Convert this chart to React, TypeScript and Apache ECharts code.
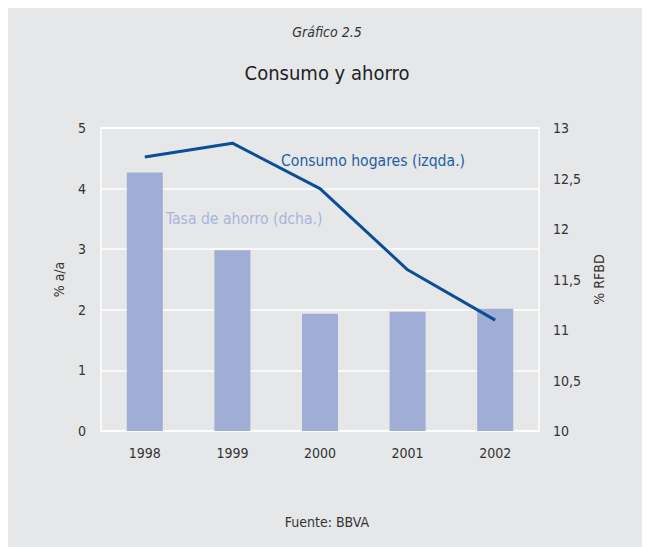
import React, { useEffect, useRef } from "react";
import * as echarts from "echarts";

const years = ["1998", "1999", "2000", "2001", "2002"];
const consumoHogares = [4.52, 4.75, 4.0, 2.66, 1.83];
const tasaAhorro = [12.56, 11.79, 11.16, 11.18, 11.21];

const FONT = "'DejaVu Sans Condensed', 'Liberation Sans Narrow', sans-serif";

export default function App() {
  const ref = useRef<HTMLDivElement>(null);
  useEffect(() => {
    if (!ref.current) return;
    const chart = echarts.init(ref.current, null, { renderer: "svg" });
    chart.setOption({
      animation: false,
      backgroundColor: "#e6e7e9",
      textStyle: { fontFamily: FONT },
      grid: {
        left: 93,
        right: 107,
        top: 120,
        bottom: 116,
        show: true,
        borderColor: "#ffffff",
        borderWidth: 1.5,
        backgroundColor: "transparent",
      },
      graphic: [
        {
          type: "text",
          left: "center",
          top: 17,
          style: { text: "Gráfico 2.5", fontFamily: FONT, fontSize: 14, fontStyle: "italic", fill: "#333" },
        },
        {
          type: "text",
          left: "center",
          top: 55,
          style: { text: "Consumo y ahorro", fontFamily: FONT, fontSize: 20, fill: "#222" },
        },
        {
          type: "text",
          left: "center",
          top: 507,
          style: { text: "Fuente: BBVA", fontFamily: FONT, fontSize: 14, fill: "#333" },
        },
        {
          type: "text",
          left: 273,
          top: 145,
          style: { text: "Consumo hogares (izqda.)", fontFamily: FONT, fontSize: 15.6, fill: "#1c5ea8" },
        },
        {
          type: "text",
          left: 158,
          top: 203,
          style: { text: "Tasa de ahorro (dcha.)", fontFamily: FONT, fontSize: 15.6, fill: "#a9b4dc" },
        },
      ],
      xAxis: {
        type: "category",
        data: years,
        axisLine: { show: false },
        axisTick: { show: false },
        axisLabel: { color: "#333", fontSize: 14, fontFamily: FONT, margin: 15 },
      },
      yAxis: [
        {
          type: "value",
          min: 0,
          max: 5,
          interval: 1,
          name: "% a/a",
          nameLocation: "middle",
          nameGap: 35,
          nameTextStyle: { color: "#333", fontSize: 14, fontFamily: FONT },
          axisLine: { show: false },
          axisTick: { show: false },
          axisLabel: { color: "#333", fontSize: 14, fontFamily: FONT, margin: 15 },
          splitLine: { show: true, lineStyle: { color: "#ffffff", width: 1.5 } },
        },
        {
          type: "value",
          min: 10,
          max: 13,
          interval: 0.5,
          name: "% RFBD",
          nameLocation: "middle",
          nameGap: 49,
          nameTextStyle: { color: "#333", fontSize: 14, fontFamily: FONT },
          axisLine: { show: false },
          axisTick: { show: false },
          axisLabel: {
            color: "#333",
            fontSize: 14,
            fontFamily: FONT,
            margin: 14,
            formatter: (v: number) => String(v).replace(".", ","),
          },
          splitLine: { show: false },
        },
      ],
      series: [
        {
          name: "Tasa de ahorro (dcha.)",
          type: "bar",
          yAxisIndex: 1,
          data: tasaAhorro,
          barWidth: 36,
          itemStyle: { color: "#a0aed6" },
        },
        {
          name: "Consumo hogares (izqda.)",
          type: "line",
          yAxisIndex: 0,
          data: consumoHogares,
          symbol: "none",
          lineStyle: { color: "#0a4e9b", width: 3 },
        },
      ],
    });
    return () => chart.dispose();
  }, []);
  return <div ref={ref} style={{ width: 638, height: 539 }} />;
}
